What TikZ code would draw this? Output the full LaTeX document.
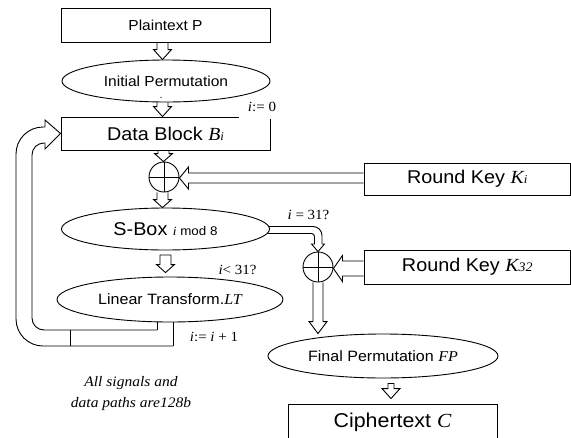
\documentclass[tikz,border=0pt]{standalone}
\usepackage{fontspec}
\setmainfont{Liberation Sans}[FakeStretch=1.07]
\newfontfamily\tms{Liberation Serif}[FakeStretch=1.07]
\usetikzlibrary{shapes.geometric,calc}
\newcommand\fsz[1]{\fontsize{#1}{#1}\selectfont}
% hollow block arrow pointing down: start, end, shaft half width, head half width, head length
\newcommand\vdown[5]{\draw[pipe] let \p1=(#1), \p2=(#2) in (\x1-#3pt,\y1) -- (\x1-#3pt,\y2+#5pt) -- (\x1-#4pt,\y2+#5pt) -- (\x1,\y2) -- (\x1+#4pt,\y2+#5pt) -- (\x1+#3pt,\y2+#5pt) -- (\x1+#3pt,\y1);}
% same, free standing (closed at its tail)
\newcommand\vdownc[5]{\draw[pipe] let \p1=(#1), \p2=(#2) in (\x1-#3pt,\y1) -- (\x1-#3pt,\y2+#5pt) -- (\x1-#4pt,\y2+#5pt) -- (\x1,\y2) -- (\x1+#4pt,\y2+#5pt) -- (\x1+#3pt,\y2+#5pt) -- (\x1+#3pt,\y1) -- cycle;}
% hollow block arrow pointing left
\newcommand\hleft[5]{\draw[pipe] let \p1=(#1), \p2=(#2) in (\x1,\y1+#3pt) -- (\x2+#5pt,\y1+#3pt) -- (\x2+#5pt,\y1+#4pt) -- (\x2,\y1) -- (\x2+#5pt,\y1-#4pt) -- (\x2+#5pt,\y1-#3pt) -- (\x1,\y1-#3pt);}
\begin{document}
\begin{tikzpicture}[x=1pt,y=-1pt,
  pipe/.style={draw=black,line width=0.9pt,line join=miter},
  box/.style={draw=black,line width=0.9pt,rectangle,inner sep=0pt},
  ell/.style={draw=black,line width=0.9pt,ellipse,inner sep=0pt},
  xor/.style={draw=black,line width=0.9pt,circle,inner sep=0pt,minimum size=30pt},
  lbl/.style={inner sep=0pt,font=\tms\fsz{14}}]
\useasboundingbox (0,0) rectangle (571,437);

% nodes
\node[box,minimum width=209,minimum height=34] (pt) at (165.5,25) {\fsz{14.5}Plaintext P};
\node[ell,minimum width=208,minimum height=42] (ip) at (166,81) {\fsz{14.5}Initial Permutation};
\node[inner sep=0pt,anchor=base,font=\fsz{10}] (dot) at (161,98) {.};
\node[box,minimum width=209,minimum height=33] (db) at (165.5,133.5) {\fsz{18.5}Data Block {\tms\itshape B}{\tms\itshape\fsz{12}i}};
\fill[white] (239,115.3) rectangle (270.5,118.6);
\node[lbl] (l0) at (262,107) {{\itshape i}:= 0};
\node[xor] (x1) at (164,177) {};
\node[box,minimum width=206.5,minimum height=32] (rk) at (467.25,179) {\fsz{18.5}Round Key {\tms\itshape K}{\tms\itshape\fsz{12}i}};
\node[ell,minimum width=208,minimum height=42] (sb) at (165.5,229) {\fsz{18.5}S-Box {\fsz{12.5}{\tms\itshape i} mod 8}};
\node[lbl] (l31) at (308.5,215) {{\itshape i} = 31?};
\node[xor] (x2) at (318,267) {};
\node[box,minimum width=206.5,minimum height=34] (rk32) at (467.25,267) {\fsz{18.5}Round Key {\tms\itshape K}{\tms\itshape\fsz{13}32}};
\node[ell,minimum width=226,minimum height=45] (lt) at (170,299.5) {\fsz{15}Linear Transform.{\tms\itshape LT}};
\node[lbl] (llt) at (237.5,270) {{\itshape i}< 31?};
\node[lbl] (linc) at (214,337) {{\itshape i}:= {\itshape i} + 1};
\node[ell,minimum width=230,minimum height=44] (fp) at (383,356) {\fsz{15}Final Permutation {\tms\itshape FP}};
\node[box,minimum width=209,minimum height=36] (ct) at (392.5,422) {\fsz{20}Ciphertext {\tms\itshape C}};
\node[lbl,align=center,font=\tms\itshape\fontsize{14.5}{21}\selectfont] (note) at (131,393.5) {All signals and\\data paths are128b};

% xor crosses
\draw[pipe] (x1.north) -- (x1.south) (x1.west) -- (x1.east);
\draw[pipe] (x2.north) -- (x2.south) (x2.west) -- (x2.east);

% straight block arrows
\vdown{$(pt.south)+(-3,0)$}{ip.north}{5.5}{9}{10}
\vdown{$(ip.south)+(-3.5,0)$}{db.north}{5.5}{9}{10}
\vdown{$(db.south)+(-2,0)$}{x1.north}{5.5}{9}{8}
\vdown{$(x1.south)+(-1.5,0)$}{sb.north}{5.5}{9}{8}
\vdownc{$(sb.south)+(0,4.5)$}{$(lt.north)+(0,-4)$}{5.5}{9}{8}
\hleft{$(rk.west)+(0,-1)$}{x1.east}{5}{11}{9}
\hleft{$(rk32.west)+(0,1.5)$}{x2.east}{7.5}{13}{9}
\vdown{x2.south}{fp.north}{5}{9}{12}
\vdownc{$(fp.south)+(8,5)$}{$(ct.north)+(-1.5,-5)$}{3}{9}{10}

% bent arrow S-Box -> second xor
\draw[pipe,rounded corners=9pt] (268,226.5) -- (322,226.5) -- (322,244);
\draw[pipe] (322,244) -- (324.5,244) -- (x2.north) -- (311.5,244) -- (314.5,244);
\draw[pipe,rounded corners=3pt] (314.5,244) -- (314.5,233.5) -- (268,233.5);

% feedback loop Linear Transform -> Data Block
\draw[pipe] (173,322.3) -- (173,346);
\draw[pipe,rounded corners=27pt] (173,346) -- (16,346) -- (16,127) -- (45,127);
\draw[pipe] (157,322) -- (157,330);
\draw[pipe,rounded corners=12pt] (157,330) -- (32,330) -- (32,143) -- (45,143);
\draw[pipe] (70,330) -- (70,346);
\draw[pipe] (45,127) -- (45,120) -- (db.west) -- (45,149) -- (45,143);
\end{tikzpicture}
\end{document}
